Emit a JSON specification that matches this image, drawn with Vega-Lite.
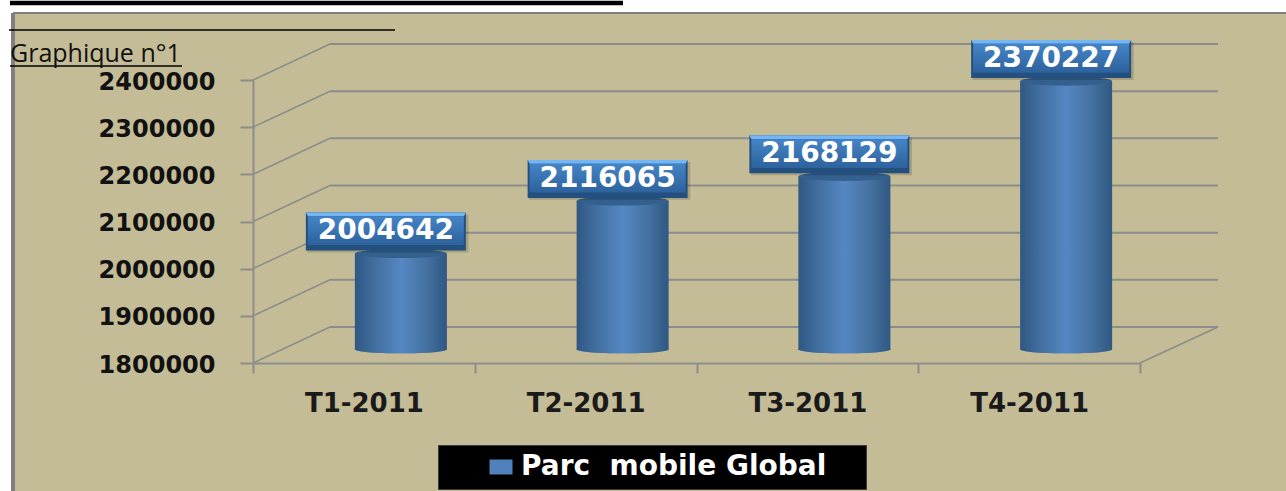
{
"$schema":"https://vega.github.io/schema/vega-lite/v6.json",
"width":1273,"height":478,
"autosize":{"type":"none"},
"padding":{"left":13,"top":13,"right":0,"bottom":0},
"background":"#ffffff",
"title":{"text":"Graphique n°1","anchor":"start","frame":"group","font":"Open Sans","fontSize":25,"fontWeight":"normal","color":"#111111","dx":-3,"dy":37,"offset":-49,"baseline":"alphabetic"},
"config":{"view":{"fill":"#C4BC96","stroke":null},"axis":{"grid":false}},
"datasets":{
"quarters":[
{"trimestre":"T1-2011","parc":2004642,"serie":"Parc\u00a0 mobile Global"},
{"trimestre":"T2-2011","parc":2116065,"serie":"Parc\u00a0 mobile Global"},
{"trimestre":"T3-2011","parc":2168129,"serie":"Parc\u00a0 mobile Global"},
{"trimestre":"T4-2011","parc":2370227,"serie":"Parc\u00a0 mobile Global"}],
"ticks":[
{"tick":1800000,"back":1876325},{"tick":1900000,"back":1976325},{"tick":2000000,"back":2076325},{"tick":2100000,"back":2176325},{"tick":2200000,"back":2276325},{"tick":2300000,"back":2376325},{"tick":2400000,"back":2476325}]
},
"resolve":{"scale":{"x":"independent"}},
"layer":[
{"data":{"name":"ticks"},
 "layer":[
 {"mark":{"type":"rule","color":"#8C8D8B","strokeWidth":2},
  "encoding":{"x":{"datum":77,"type":"quantitative","axis":null,"scale":{"domain":[0,887],"range":[240,1127]}},"x2":{"datum":965},
   "y":{"field":"back","type":"quantitative","title":null,"scale":{"domain":[1800000,2400000],"range":[350,67],"nice":false,"zero":false}}}},
 {"mark":{"type":"rule","color":"#8C8D8B","strokeWidth":1.6},
  "encoding":{"x":{"datum":0,"type":"quantitative","axis":null,"scale":{"domain":[0,887],"range":[240,1127]}},"x2":{"datum":77},
   "y":{"field":"tick","type":"quantitative","title":null,"scale":{"domain":[1800000,2400000],"range":[350,67],"nice":false,"zero":false}},"y2":{"field":"back"}}},
 {"transform":[{"filter":"datum.tick === 1800000"}],
  "mark":{"type":"rule","color":"#8C8D8B","strokeWidth":1.6},
  "encoding":{"x":{"datum":887,"type":"quantitative","axis":null,"scale":{"domain":[0,887],"range":[240,1127]}},"x2":{"datum":965},
   "y":{"field":"tick","type":"quantitative","title":null,"scale":{"domain":[1800000,2400000],"range":[350,67],"nice":false,"zero":false}},"y2":{"field":"back"}}}
 ]},
{"data":{"name":"quarters"},
 "encoding":{
  "x":{"field":"trimestre","type":"nominal","title":null,"sort":null,
   "scale":{"range":[240,1127],"paddingInner":0,"paddingOuter":0},
   "axis":{"orient":"bottom","offset":-128,"tickBand":"extent","tickSize":10,"tickWidth":2,"tickColor":"#8C8D8B","domainColor":"#8C8D8B","domainWidth":2,"labelAngle":0,"labelFont":"DejaVu Sans","labelFontWeight":"bold","labelFontSize":26,"labelColor":"#1a1a1a","labelPadding":17,"labelBaseline":"top"}},
  "y":{"field":"parc","type":"quantitative","title":null,
   "scale":{"domain":[1800000,2400000],"range":[350,67],"nice":false,"zero":false},
   "axis":{"orient":"left","offset":-240,"values":[1800000,1900000,2000000,2100000,2200000,2300000,2400000],"format":"d","tickSize":13,"tickWidth":2,"tickColor":"#8C8D8B","domainColor":"#8C8D8B","domainWidth":2,"labelFont":"DejaVu Sans","labelFontWeight":"bold","labelFontSize":24,"labelColor":"#111111","labelPadding":25,"labelOffset":2}}
 },
 "layer":[
 {"mark":{"type":"point","filled":true,"opacity":1,"size":8464,"xOffset":37,"shape":"M-1,-0.3 L1,-0.3 A1,0.09 0 0 1 -1,-0.3 Z"},
  "encoding":{"y":{"datum":1800000,"type":"quantitative","title":null},
   "color":{"field":"serie","type":"nominal","scale":{"range":["#4F81BD"]},
    "legend":{"title":"\u00a0","titleOrient":"right","titlePadding":32,"titleFontSize":10,"orient":"none","legendX":425,"legendY":432,"fillColor":"#000000","strokeColor":"#3a3a3a","padding":8,"symbolType":"M-1,-0.65 L1,-0.65 L1,0.65 L-1,0.65 Z","symbolSize":529,"symbolOpacity":1,"symbolOffset":41,"labelOffset":6,"labelFont":"DejaVu Sans","labelFontWeight":"bold","labelFontSize":28,"labelColor":"#ffffff","labelLimit":500,"symbolStrokeWidth":0}}}},
 {"mark":{"type":"point","filled":true,"opacity":1,"size":8464,"xOffset":37,
   "color":{"gradient":"linear","x1":0,"y1":0,"x2":1,"y2":0,"stops":[{"offset":0,"color":"#2F5784"},{"offset":0.22,"color":"#426F9F"},{"offset":0.5,"color":"#5587C4"},{"offset":0.78,"color":"#44719F"},{"offset":1,"color":"#2F5882"}]},
   "shape":"M-1,-0.3 L1,-0.3 A1,0.09 0 0 1 -1,-0.3 Z"},
  "encoding":{"y":{"datum":1800000,"type":"quantitative","title":null}}},
 {"mark":{"type":"bar","width":92,"xOffset":37,"yOffset":-13,"y2Offset":-13,
   "color":{"gradient":"linear","x1":0,"y1":0,"x2":1,"y2":0,"stops":[{"offset":0,"color":"#2F5784"},{"offset":0.22,"color":"#426F9F"},{"offset":0.5,"color":"#5587C4"},{"offset":0.78,"color":"#44719F"},{"offset":1,"color":"#2F5882"}]}},
  "encoding":{"y2":{"datum":1800000}}},
 {"mark":{"type":"point","filled":true,"opacity":1,"size":8464,"xOffset":37,"yOffset":-13,"color":"#33608C","shape":"M-1,0 A1,0.1 0 0 0 1,0 A1,0.1 0 0 0 -1,0 Z"}},
 {"mark":{"type":"point","filled":true,"opacity":1,"size":26000,"xOffset":24,"yOffset":-33,"color":"#000000","fillOpacity":0.15,"shape":"M-1,-0.235 L1,-0.235 L1,0.235 L-1,0.235 Z"}},
 {"mark":{"type":"point","filled":true,"opacity":1,"size":25600,"xOffset":22,"yOffset":-35,"color":"#24507F","shape":"M-1,-0.2375 L1,-0.2375 L1,0.2375 L-1,0.2375 Z"}},
 {"mark":{"type":"point","filled":true,"opacity":1,"size":25600,"xOffset":22,"yOffset":-35,"color":"#72B6F6","shape":"M-1,-0.2375 L1,-0.2375 L0.975,-0.19 L-0.975,-0.19 Z"}},
 {"mark":{"type":"point","filled":true,"opacity":1,"size":25600,"xOffset":22,"yOffset":-35,
   "color":{"gradient":"linear","x1":0,"y1":0,"x2":0,"y2":1,"stops":[{"offset":0,"color":"#4584C6"},{"offset":1,"color":"#2D629C"}]},
   "shape":"M-0.975,-0.19 L0.975,-0.19 L0.975,0.17 L-0.975,0.17 Z"}},
 {"mark":{"type":"text","font":"DejaVu Sans","fontWeight":"bold","fontSize":28,"color":"#ffffff","xOffset":22,"yOffset":-35,"baseline":"middle","align":"center"},
  "encoding":{"text":{"field":"parc","type":"quantitative","format":"d"}}}
 ]},
{"data":{"values":[{"trait":"bordure"}]},
 "layer":[
 {"mark":{"type":"rule","color":"#7F7F7F","strokeWidth":4},"encoding":{"x":{"value":0}}},
 {"mark":{"type":"rule","color":"#7F7F7F","strokeWidth":2},"encoding":{"y":{"value":0}}},
 {"mark":{"type":"rule","color":"#000000","strokeWidth":4.5},"encoding":{"x":{"value":-3},"x2":{"value":610},"y":{"value":-10}}},
 {"mark":{"type":"rule","color":"#000000","strokeWidth":1.5},"encoding":{"x":{"value":-4},"x2":{"value":382},"y":{"value":17}}},
 {"mark":{"type":"rule","color":"#000000","strokeWidth":1.5},"encoding":{"x":{"value":-3},"x2":{"value":169},"y":{"value":53}}}
 ]}
]
}
